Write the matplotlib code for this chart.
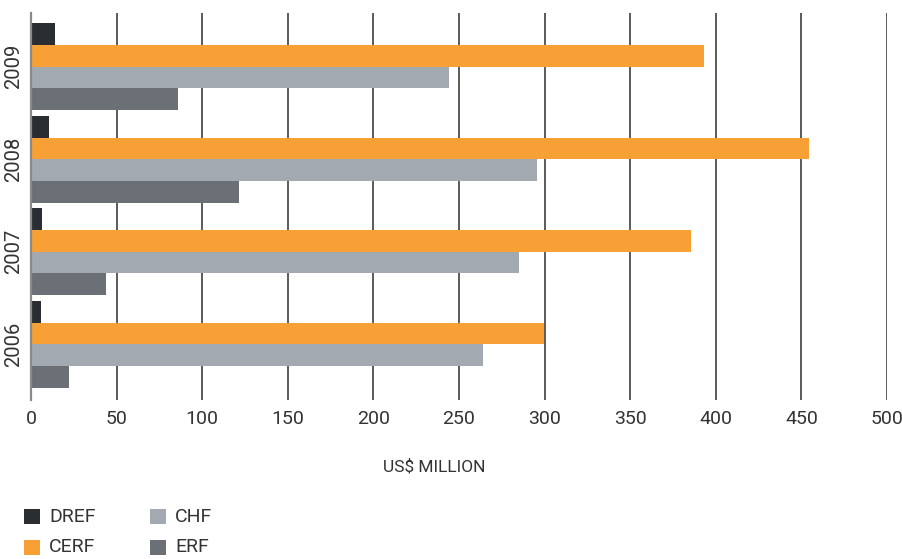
import matplotlib.pyplot as plt
import numpy as np
from matplotlib.patches import Rectangle

# --- data -------------------------------------------------------------------
YEARS = ["2006", "2007", "2008", "2009"]
DREF = [5.8, 6.4, 10.5, 14.0]
CERF = [299.6, 385.5, 454.4, 393.0]
CHF = [264.0, 285.0, 295.6, 244.2]
ERF = [22.2, 43.8, 121.5, 85.9]
X_TICKS = [0, 50, 100, 150, 200, 250, 300, 350, 400, 450, 500]
X_LABEL = "US$ MILLION"

SERIES = [
    ("DREF", DREF, "#2a2d32"),
    ("CERF", CERF, "#f7a035"),
    ("CHF", CHF, "#a3a9b0"),
    ("ERF", ERF, "#6b7077"),
]

TEXT_COLOR = "#333333"
plt.rcParams["font.family"] = ["Roboto", "DejaVu Sans"]

W, H = 902, 559
fig = plt.figure(figsize=(W / 100, H / 100), dpi=100)
ax = fig.add_axes([31 / W, 1 - 400 / H, (887 - 31) / W, (400 - 13.3) / H])

bar_h = 0.234
centers = np.arange(len(YEARS))
offsets = [1.5, 0.5, -0.5, -1.5]
for (name, values, color), off in zip(SERIES, offsets):
    ax.barh(centers + off * bar_h, values, height=bar_h, color=color, label=name, zorder=3)

ax.set_xlim(0, 500)
ax.set_ylim(-0.601, 3.576)
ax.set_xticks(X_TICKS)
ax.set_xticklabels([str(t) for t in X_TICKS], fontsize=14, color=TEXT_COLOR)
ax.set_yticks(centers)
ax.set_yticklabels(YEARS, rotation=90, va="center", fontsize=14.5, color=TEXT_COLOR)
ax.tick_params(axis="both", length=0)
ax.tick_params(axis="x", pad=7)
ax.tick_params(axis="y", pad=6)

ax.xaxis.grid(True, color="#5a5a5a", linewidth=1.4, zorder=0)
ax.set_axisbelow(True)
for side in ["top", "right", "bottom"]:
    ax.spines[side].set_visible(False)
ax.spines["left"].set_color("#8a8a8a")
ax.spines["left"].set_linewidth(1.6)
ax.spines["left"].set_zorder(4)

fig.text(434 / W, 1 - 467 / H, X_LABEL, ha="center", va="center", fontsize=12.5, color=TEXT_COLOR)

# legend: two columns, filled column by column (DREF, CERF | CHF, ERF)
col_x = [24, 150]
row_y = [509, 540]
sq_w, sq_h = 16, 15
for i, (name, _, color) in enumerate(SERIES):
    x0 = col_x[i // 2]
    y0 = row_y[i % 2]
    fig.add_artist(Rectangle((x0 / W, 1 - (y0 + sq_h) / H), sq_w / W, sq_h / H,
                             transform=fig.transFigure, facecolor=color, edgecolor="none"))
    fig.text((x0 + 25) / W, 1 - (y0 + sq_h / 2) / H, name, ha="left", va="center",
             fontsize=14, color=TEXT_COLOR)

fig.savefig("out.png", dpi=100)
